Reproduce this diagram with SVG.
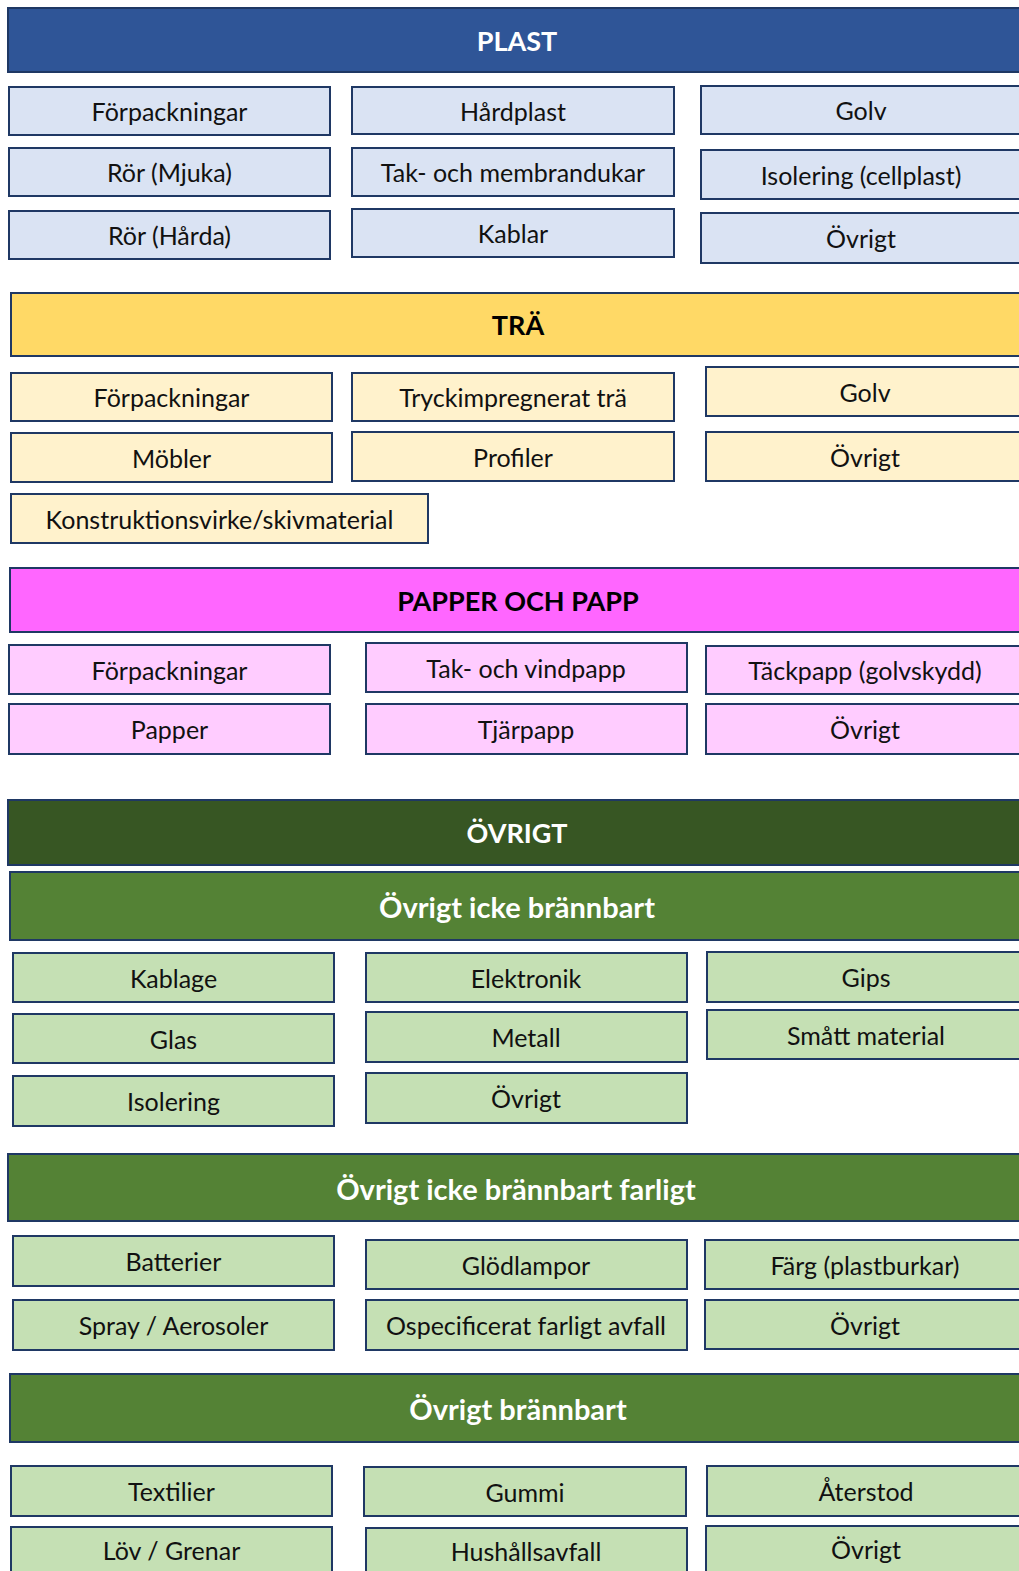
<svg xmlns="http://www.w3.org/2000/svg" width="1019" height="1571" viewBox="0 0 1019 1571">
  <style>
    rect { stroke: #1f3864; stroke-width: 2; }
    text { font-family: Lato, "Liberation Sans", sans-serif; text-anchor: middle; }
    .item { font-size: 25px; fill: #111; }
    .head { font-size: 27px; font-weight: bold; }
    .sub { font-size: 29px; font-weight: bold; fill: #fff; }
    .plastH { fill: #2f5597; }
    .plast { fill: #dae3f3; }
    .traH { fill: #ffd966; }
    .tra { fill: #fff2cc; }
    .papH { fill: #ff66ff; }
    .pap { fill: #ffccff; }
    .ovrH { fill: #375623; }
    .ovrS { fill: #548235; }
    .ovr { fill: #c5e0b4; }
    .light { fill: #fff; }
    .dark { fill: #000; }
  </style>

  <!-- PLAST -->
  <g id="plast">
    <g id="plast-header"><rect class="plastH" x="8" y="8" width="1020" height="64"/><text class="head light" x="517" y="51">PLAST</text></g>
    <g id="plast-forpackningar"><rect class="plast" x="9" y="87" width="321" height="48"/><text class="item" x="169.5" y="121">Förpackningar</text></g>
    <g id="plast-ror-mjuka"><rect class="plast" x="9" y="148" width="321" height="48"/><text class="item" x="169.5" y="182">Rör (Mjuka)</text></g>
    <g id="plast-ror-harda"><rect class="plast" x="9" y="211" width="321" height="48"/><text class="item" x="169.5" y="245">Rör (Hårda)</text></g>
    <g id="plast-hardplast"><rect class="plast" x="352" y="87" width="322" height="47"/><text class="item" x="513" y="120.5">Hårdplast</text></g>
    <g id="plast-tak"><rect class="plast" x="352" y="148" width="322" height="48"/><text class="item" x="513" y="182">Tak- och membrandukar</text></g>
    <g id="plast-kablar"><rect class="plast" x="352" y="209" width="322" height="48"/><text class="item" x="513" y="243">Kablar</text></g>
    <g id="plast-golv"><rect class="plast" x="701" y="86" width="322" height="48"/><text class="item" x="861" y="120">Golv</text></g>
    <g id="plast-isolering"><rect class="plast" x="701" y="150" width="322" height="49"/><text class="item" x="861" y="184.5">Isolering (cellplast)</text></g>
    <g id="plast-ovrigt"><rect class="plast" x="701" y="213" width="322" height="50"/><text class="item" x="861" y="248">Övrigt</text></g>
  </g>

  <!-- TRÄ -->
  <g id="tra">
    <g id="tra-header"><rect class="traH" x="11" y="293" width="1012" height="63"/><text class="head dark" x="518" y="335">TRÄ</text></g>
    <g id="tra-forpackningar"><rect class="tra" x="11" y="373" width="321" height="48"/><text class="item" x="171.5" y="407">Förpackningar</text></g>
    <g id="tra-mobler"><rect class="tra" x="11" y="433" width="321" height="49"/><text class="item" x="171.5" y="467.5">Möbler</text></g>
    <g id="tra-konstruktion"><rect class="tra" x="11" y="494" width="417" height="49"/><text class="item" x="219.5" y="528.5">Konstruktionsvirke/skivmaterial</text></g>
    <g id="tra-tryck"><rect class="tra" x="352" y="373" width="322" height="48"/><text class="item" x="513" y="407">Tryckimpregnerat trä</text></g>
    <g id="tra-profiler"><rect class="tra" x="352" y="432" width="322" height="49"/><text class="item" x="513" y="466.5">Profiler</text></g>
    <g id="tra-golv"><rect class="tra" x="706" y="367" width="318" height="49"/><text class="item" x="865" y="401.5">Golv</text></g>
    <g id="tra-ovrigt"><rect class="tra" x="706" y="432" width="318" height="49"/><text class="item" x="865" y="466.5">Övrigt</text></g>
  </g>

  <!-- PAPPER OCH PAPP -->
  <g id="papper">
    <g id="papper-header"><rect class="papH" x="10" y="568" width="1014" height="64"/><text class="head dark" x="518" y="611">PAPPER OCH PAPP</text></g>
    <g id="papper-forpackningar"><rect class="pap" x="9" y="645" width="321" height="49"/><text class="item" x="169.5" y="679.5">Förpackningar</text></g>
    <g id="papper-papper"><rect class="pap" x="9" y="704" width="321" height="50"/><text class="item" x="169.5" y="739">Papper</text></g>
    <g id="papper-tak"><rect class="pap" x="366" y="643" width="321" height="49"/><text class="item" x="526" y="677.5">Tak- och vindpapp</text></g>
    <g id="papper-tjarpapp"><rect class="pap" x="366" y="704" width="321" height="50"/><text class="item" x="526" y="739">Tjärpapp</text></g>
    <g id="papper-tackpapp"><rect class="pap" x="706" y="646" width="318" height="48"/><text class="item" x="865" y="680">Täckpapp (golvskydd)</text></g>
    <g id="papper-ovrigt"><rect class="pap" x="706" y="704" width="318" height="50"/><text class="item" x="865" y="739">Övrigt</text></g>
  </g>

  <!-- ÖVRIGT -->
  <g id="ovrigt">
    <g id="ovrigt-header"><rect class="ovrH" x="8" y="800" width="1016" height="65"/><text class="head light" x="517" y="843">ÖVRIGT</text></g>

    <g id="icke-brannbart-header"><rect class="ovrS" x="10" y="872" width="1014" height="68"/><text class="sub" x="517" y="918">Övrigt icke brännbart</text></g>
    <g id="ib-kablage"><rect class="ovr" x="13" y="953" width="321" height="49"/><text class="item" x="173.5" y="987.5">Kablage</text></g>
    <g id="ib-glas"><rect class="ovr" x="13" y="1014" width="321" height="49"/><text class="item" x="173.5" y="1048.5">Glas</text></g>
    <g id="ib-isolering"><rect class="ovr" x="13" y="1076" width="321" height="50"/><text class="item" x="173.5" y="1111">Isolering</text></g>
    <g id="ib-elektronik"><rect class="ovr" x="366" y="953" width="321" height="49"/><text class="item" x="526" y="987.5">Elektronik</text></g>
    <g id="ib-metall"><rect class="ovr" x="366" y="1012" width="321" height="50"/><text class="item" x="526" y="1047">Metall</text></g>
    <g id="ib-ovrigt"><rect class="ovr" x="366" y="1073" width="321" height="50"/><text class="item" x="526" y="1108">Övrigt</text></g>
    <g id="ib-gips"><rect class="ovr" x="707" y="952" width="318" height="50"/><text class="item" x="866" y="987">Gips</text></g>
    <g id="ib-smatt"><rect class="ovr" x="707" y="1010" width="318" height="49"/><text class="item" x="866" y="1044.5">Smått material</text></g>

    <g id="icke-brannbart-farligt-header"><rect class="ovrS" x="8" y="1154" width="1016" height="67"/><text class="sub" x="516" y="1199.5">Övrigt icke brännbart farligt</text></g>
    <g id="ibf-batterier"><rect class="ovr" x="13" y="1236" width="321" height="50"/><text class="item" x="173.5" y="1271">Batterier</text></g>
    <g id="ibf-spray"><rect class="ovr" x="13" y="1300" width="321" height="50"/><text class="item" x="173.5" y="1335">Spray / Aerosoler</text></g>
    <g id="ibf-glodlampor"><rect class="ovr" x="366" y="1240" width="321" height="49"/><text class="item" x="526" y="1274.5">Glödlampor</text></g>
    <g id="ibf-ospecificerat"><rect class="ovr" x="366" y="1300" width="321" height="50"/><text class="item" x="526" y="1335">Ospecificerat farligt avfall</text></g>
    <g id="ibf-farg"><rect class="ovr" x="705" y="1240" width="320" height="49"/><text class="item" x="865" y="1274.5">Färg (plastburkar)</text></g>
    <g id="ibf-ovrigt"><rect class="ovr" x="705" y="1300" width="320" height="49"/><text class="item" x="865" y="1334.5">Övrigt</text></g>

    <g id="brannbart-header"><rect class="ovrS" x="10" y="1374" width="1014" height="68"/><text class="sub" x="518" y="1420">Övrigt brännbart</text></g>
    <g id="b-textilier"><rect class="ovr" x="11" y="1466" width="321" height="50"/><text class="item" x="171.5" y="1501">Textilier</text></g>
    <g id="b-lov"><rect class="ovr" x="11" y="1527" width="321" height="60"/><text class="item" x="171.5" y="1560">Löv / Grenar</text></g>
    <g id="b-gummi"><rect class="ovr" x="364" y="1467" width="322" height="49"/><text class="item" x="525" y="1501.5">Gummi</text></g>
    <g id="b-hushall"><rect class="ovr" x="366" y="1528" width="321" height="60"/><text class="item" x="526" y="1561">Hushållsavfall</text></g>
    <g id="b-aterstod"><rect class="ovr" x="707" y="1466" width="318" height="50"/><text class="item" x="866" y="1501">Återstod</text></g>
    <g id="b-ovrigt"><rect class="ovr" x="706" y="1526" width="318" height="60"/><text class="item" x="866" y="1559">Övrigt</text></g>
  </g>

  <!-- no connectors in this chart -->
  <g id="connectors"/>
</svg>
